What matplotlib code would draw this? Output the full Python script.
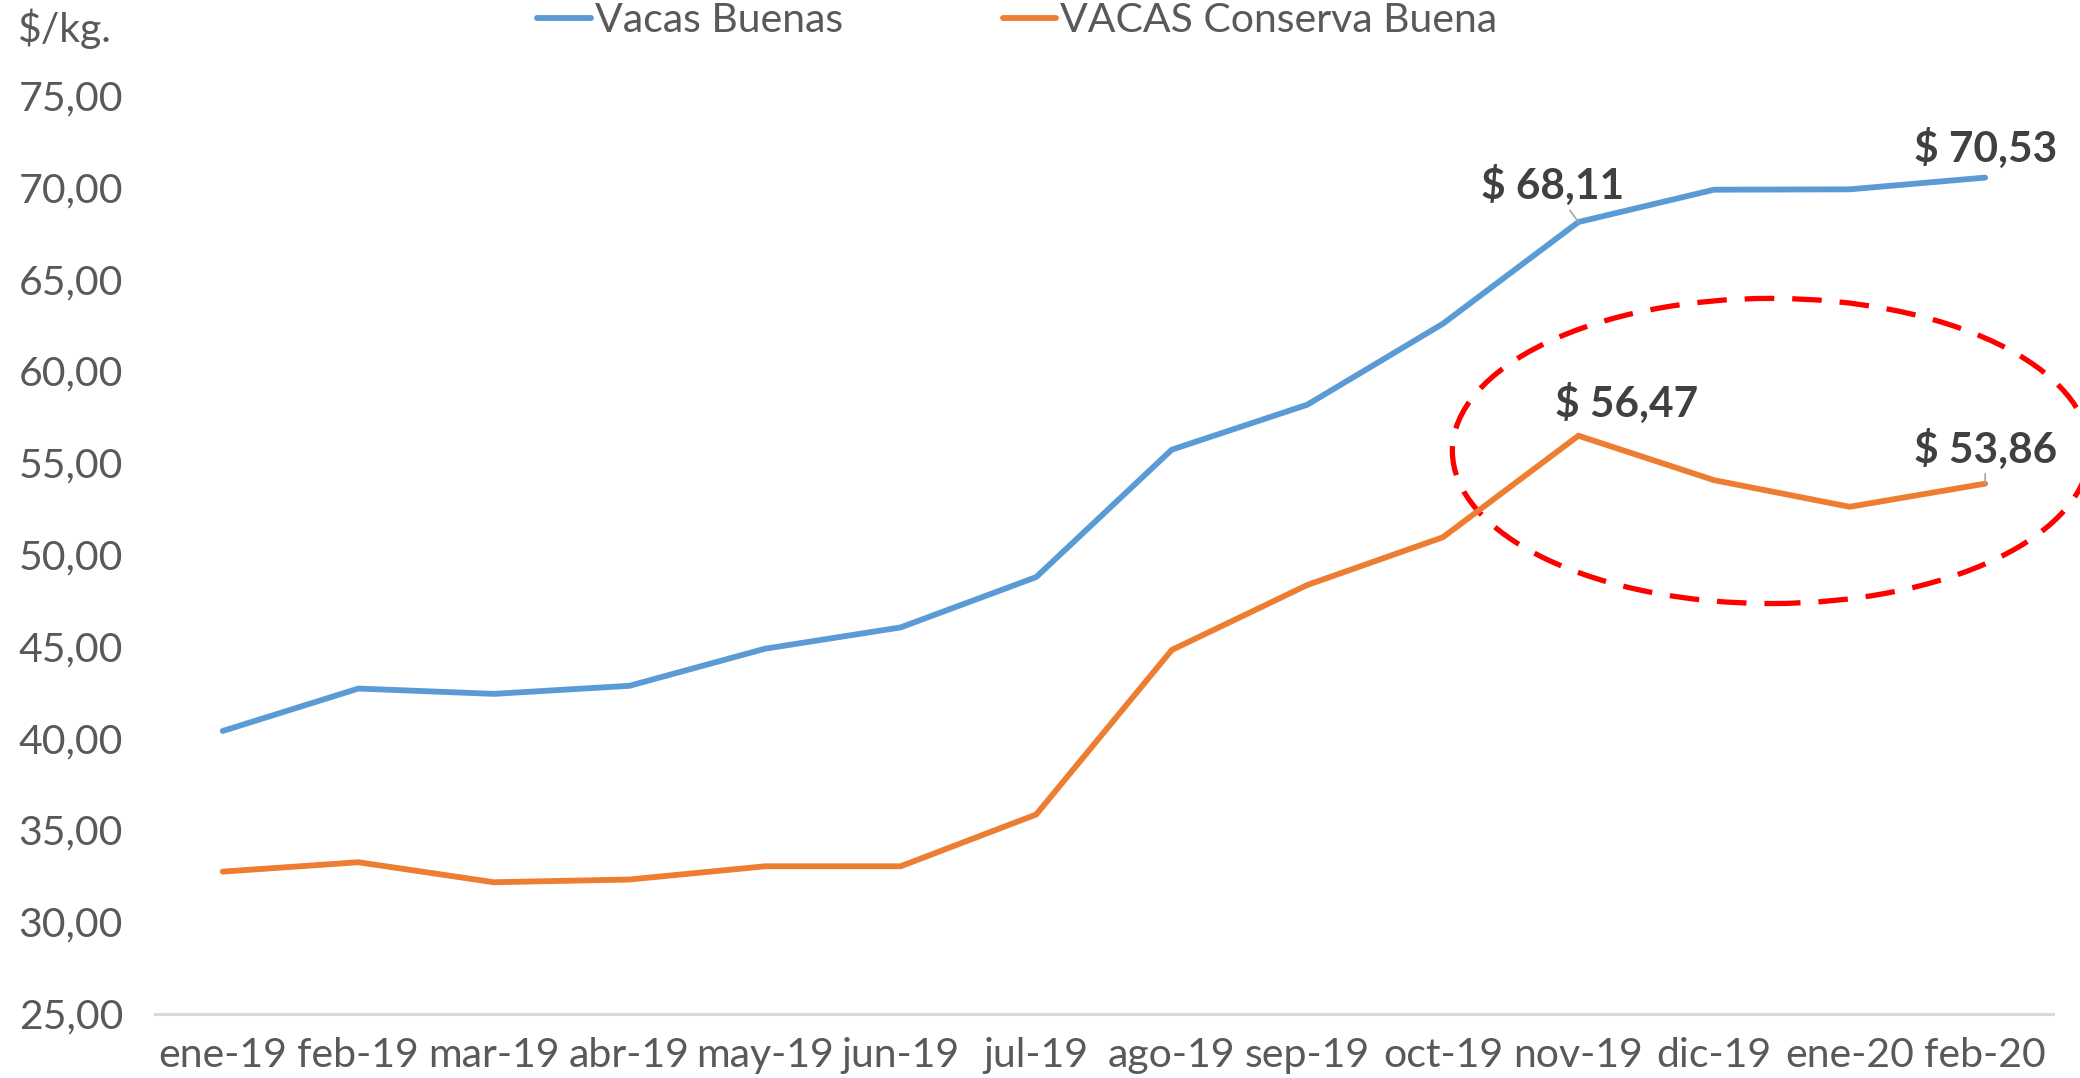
import matplotlib.pyplot as plt
import matplotlib.ticker as ticker
from matplotlib.patches import Ellipse

# Precio promedio $/kg por categoría
meses = ["ene-19", "feb-19", "mar-19", "abr-19", "may-19", "jun-19", "jul-19",
         "ago-19", "sep-19", "oct-19", "nov-19", "dic-19", "ene-20", "feb-20"]
vacas_buenas = [40.39, 42.70, 42.41, 42.85, 44.87, 46.03, 48.77,
                55.71, 58.16, 62.57, 68.11, 69.87, 69.89, 70.53]
vacas_conserva = [32.73, 33.24, 32.15, 32.30, 33.02, 33.02, 35.84,
                  44.80, 48.34, 50.94, 56.47, 54.05, 52.60, 53.86]

AZUL = "#5B9BD5"
NARANJA = "#ED7D31"
GRIS = "#595959"
FS = 29.5

plt.rcParams['font.family'] = ['Lato', 'DejaVu Sans']

fig = plt.figure(figsize=(20.8, 10.78), dpi=100)
ax = fig.add_axes([0.0745, 0.0598, 0.9125, 0.8516])

x = list(range(len(meses)))
ax.plot(x, vacas_buenas, color=AZUL, lw=4.2, label="Vacas Buenas", solid_capstyle='round')
ax.plot(x, vacas_conserva, color=NARANJA, lw=4.2, label="VACAS Conserva Buena", solid_capstyle='round')

ax.set_xlim(-0.5, len(meses) - 0.5)
ax.set_ylim(25, 75)
ax.set_xticks(x)
ax.set_xticklabels(meses)
ax.yaxis.set_major_locator(ticker.MultipleLocator(5))
ax.yaxis.set_major_formatter(ticker.FuncFormatter(lambda v, p: f"{v:.2f}".replace(".", ",")))
ax.tick_params(axis='both', length=0, labelsize=FS, colors=GRIS)
ax.tick_params(axis='y', pad=23)
ax.tick_params(axis='x', pad=17)

for s in ["top", "right", "left"]:
    ax.spines[s].set_visible(False)
ax.spines["bottom"].set_color("#D9D9D9")
ax.spines["bottom"].set_linewidth(2.2)

# etiquetas de datos (índice, valor, desplazamiento en puntos, con guía)
etiquetas = [
    (10, vacas_buenas[10], (-19, 26), True),
    (13, vacas_buenas[13], (0, 21), False),
    (10, vacas_conserva[10], (35, 23), False),
    (13, vacas_conserva[13], (0, 25), True),
]
for i, v, off, guia in etiquetas:
    props = dict(arrowstyle="-", color="#A6A6A6", lw=1.2, shrinkA=1, shrinkB=0) if guia else None
    ax.annotate(f"$ {v:.2f}".replace(".", ","), xy=(i, v), xytext=off,
                textcoords="offset points", ha="center", va="center",
                fontsize=30.5, fontweight="bold", color="#404040",
                arrowprops=props, annotation_clip=False)

# óvalo destacado
ov = Ellipse((11.42, 55.64), 4.70, 16.62, fill=False, edgecolor="red",
             lw=3.8, linestyle=(0, (5.6, 3.4)), clip_on=False)
ax.add_patch(ov)

fig.text(0.008, 0.973, "$/kg.", fontsize=FS, color=GRIS, va="center")

fig.legend(loc="center", bbox_to_anchor=(0.489, 0.981), ncol=2, frameon=False,
           fontsize=FS, handlelength=1.3, handletextpad=0.1,
           columnspacing=3.9, labelcolor=GRIS)

plt.savefig("out.png", dpi=100)
